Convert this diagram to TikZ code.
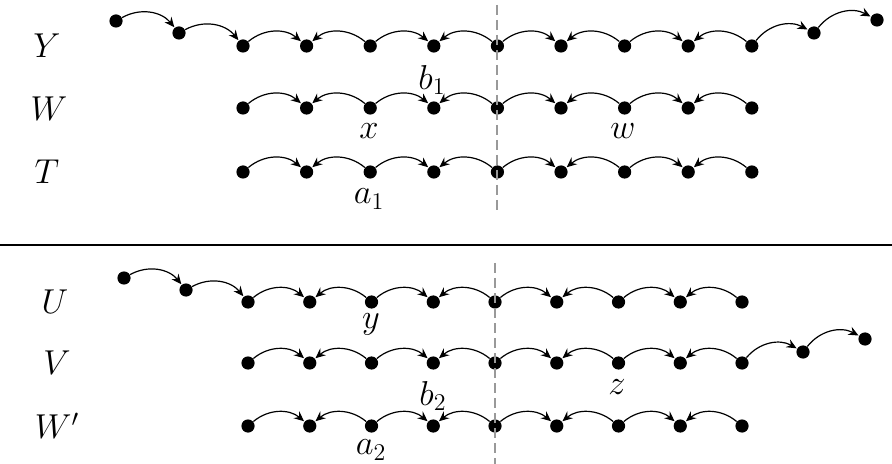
\documentclass[tikz,border=0pt]{standalone}
\usetikzlibrary{arrows.meta}

\begin{document}
\begin{tikzpicture}[
  x=0.5pt, y=-0.5pt,
  every node/.style={
    font=\fontsize{17}{19}\selectfont,
    text=black
  },
  dot/.style={
    circle,
    fill=black,
    inner sep=0pt,
    minimum size=6.6pt
  },
  fwd/.style={
    -{Stealth[length=5pt,width=4.4pt,inset=1.7pt]},
    line width=0.6pt,
    bend left=40,
    shorten >=0.2pt
  },
  bwd/.style={
    fwd,
    bend right=40
  },
  cut/.style={
    draw=black!40,
    line width=0.6pt,
    dash pattern=on 5pt off 2.5pt
  }
]
  \useasboundingbox (0,0) rectangle (892,464);

  % row names
  \node (lY) at (47,46) {$Y$};
  \node (lW) at (49,109) {$W$};
  \node (lT) at (47,172) {$T$};
  \node (lU) at (55,302) {$U$};
  \node (lV) at (57,363) {$V$};
  \node (lWp) at (57,426) {$W'$};

  % upper part
  \foreach \i in {1,...,9} {
    \node[dot] (y\i) at ({243+63.6*(\i-1)},46) {};
    \node[dot] (w\i) at ({243+63.6*(\i-1)},108) {};
    \node[dot] (t\i) at ({243+63.6*(\i-1)},172) {};
  }
  \node[dot] (ya) at (116,21) {};
  \node[dot] (yb) at (179,33) {};
  \node[dot] (yc) at (814,33) {};
  \node[dot] (yd) at (877,20) {};

  % lower part
  \foreach \i in {1,...,9} {
    \node[dot] (u\i) at ({248+61.75*(\i-1)},302) {};
    \node[dot] (v\i) at ({248+61.75*(\i-1)},363) {};
    \node[dot] (wp\i) at ({248+61.75*(\i-1)},426) {};
  }
  \node[dot] (ua) at (124,278) {};
  \node[dot] (ub) at (186,290) {};
  \node[dot] (vc) at (803,352) {};
  \node[dot] (vd) at (865,339) {};

  % arcs along every row
  \foreach \r in {y,w,t,u,v,wp} {
    \foreach \a/\b in {1/2,3/4,5/6,7/8}
      \draw[fwd] (\r\a) to (\r\b);
    \foreach \a/\b in {3/2,5/4,7/6,9/8}
      \draw[bwd] (\r\a) to (\r\b);
  }
  \draw[fwd] (ya) to (yb);
  \draw[fwd] (yb) to (y1);
  \draw[fwd] (y9) to (yc);
  \draw[fwd] (yc) to (yd);
  \draw[fwd] (ua) to (ub);
  \draw[fwd] (ub) to (u1);
  \draw[fwd] (v9) to (vc);
  \draw[fwd] (vc) to (vd);

  % vertex labels
  \node (b1) at (432,80) {$b_1$};
  \node (x) at (369,131) {$x$};
  \node (w) at (623,131) {$w$};
  \node (a1) at (369,199) {$a_1$};
  \node (y) at (371,324) {$y$};
  \node (b2) at (433,396) {$b_2$};
  \node (z) at (617,387) {$z$};
  \node (a2) at (371,450) {$a_2$};

  % separator and cuts
  \coordinate (sepl) at (0,245);
  \coordinate (sepr) at (892,245);
  \draw[line width=0.6pt] (sepl) -- (sepr);
  \coordinate (cut1a) at (497,5);
  \coordinate (cut1b) at (497,214);
  \coordinate (cut2a) at (495,263);
  \coordinate (cut2b) at (495,464);
  \draw[cut] (cut1a) -- (cut1b);
  \draw[cut] (cut2a) -- (cut2b);
\end{tikzpicture}
\end{document}
